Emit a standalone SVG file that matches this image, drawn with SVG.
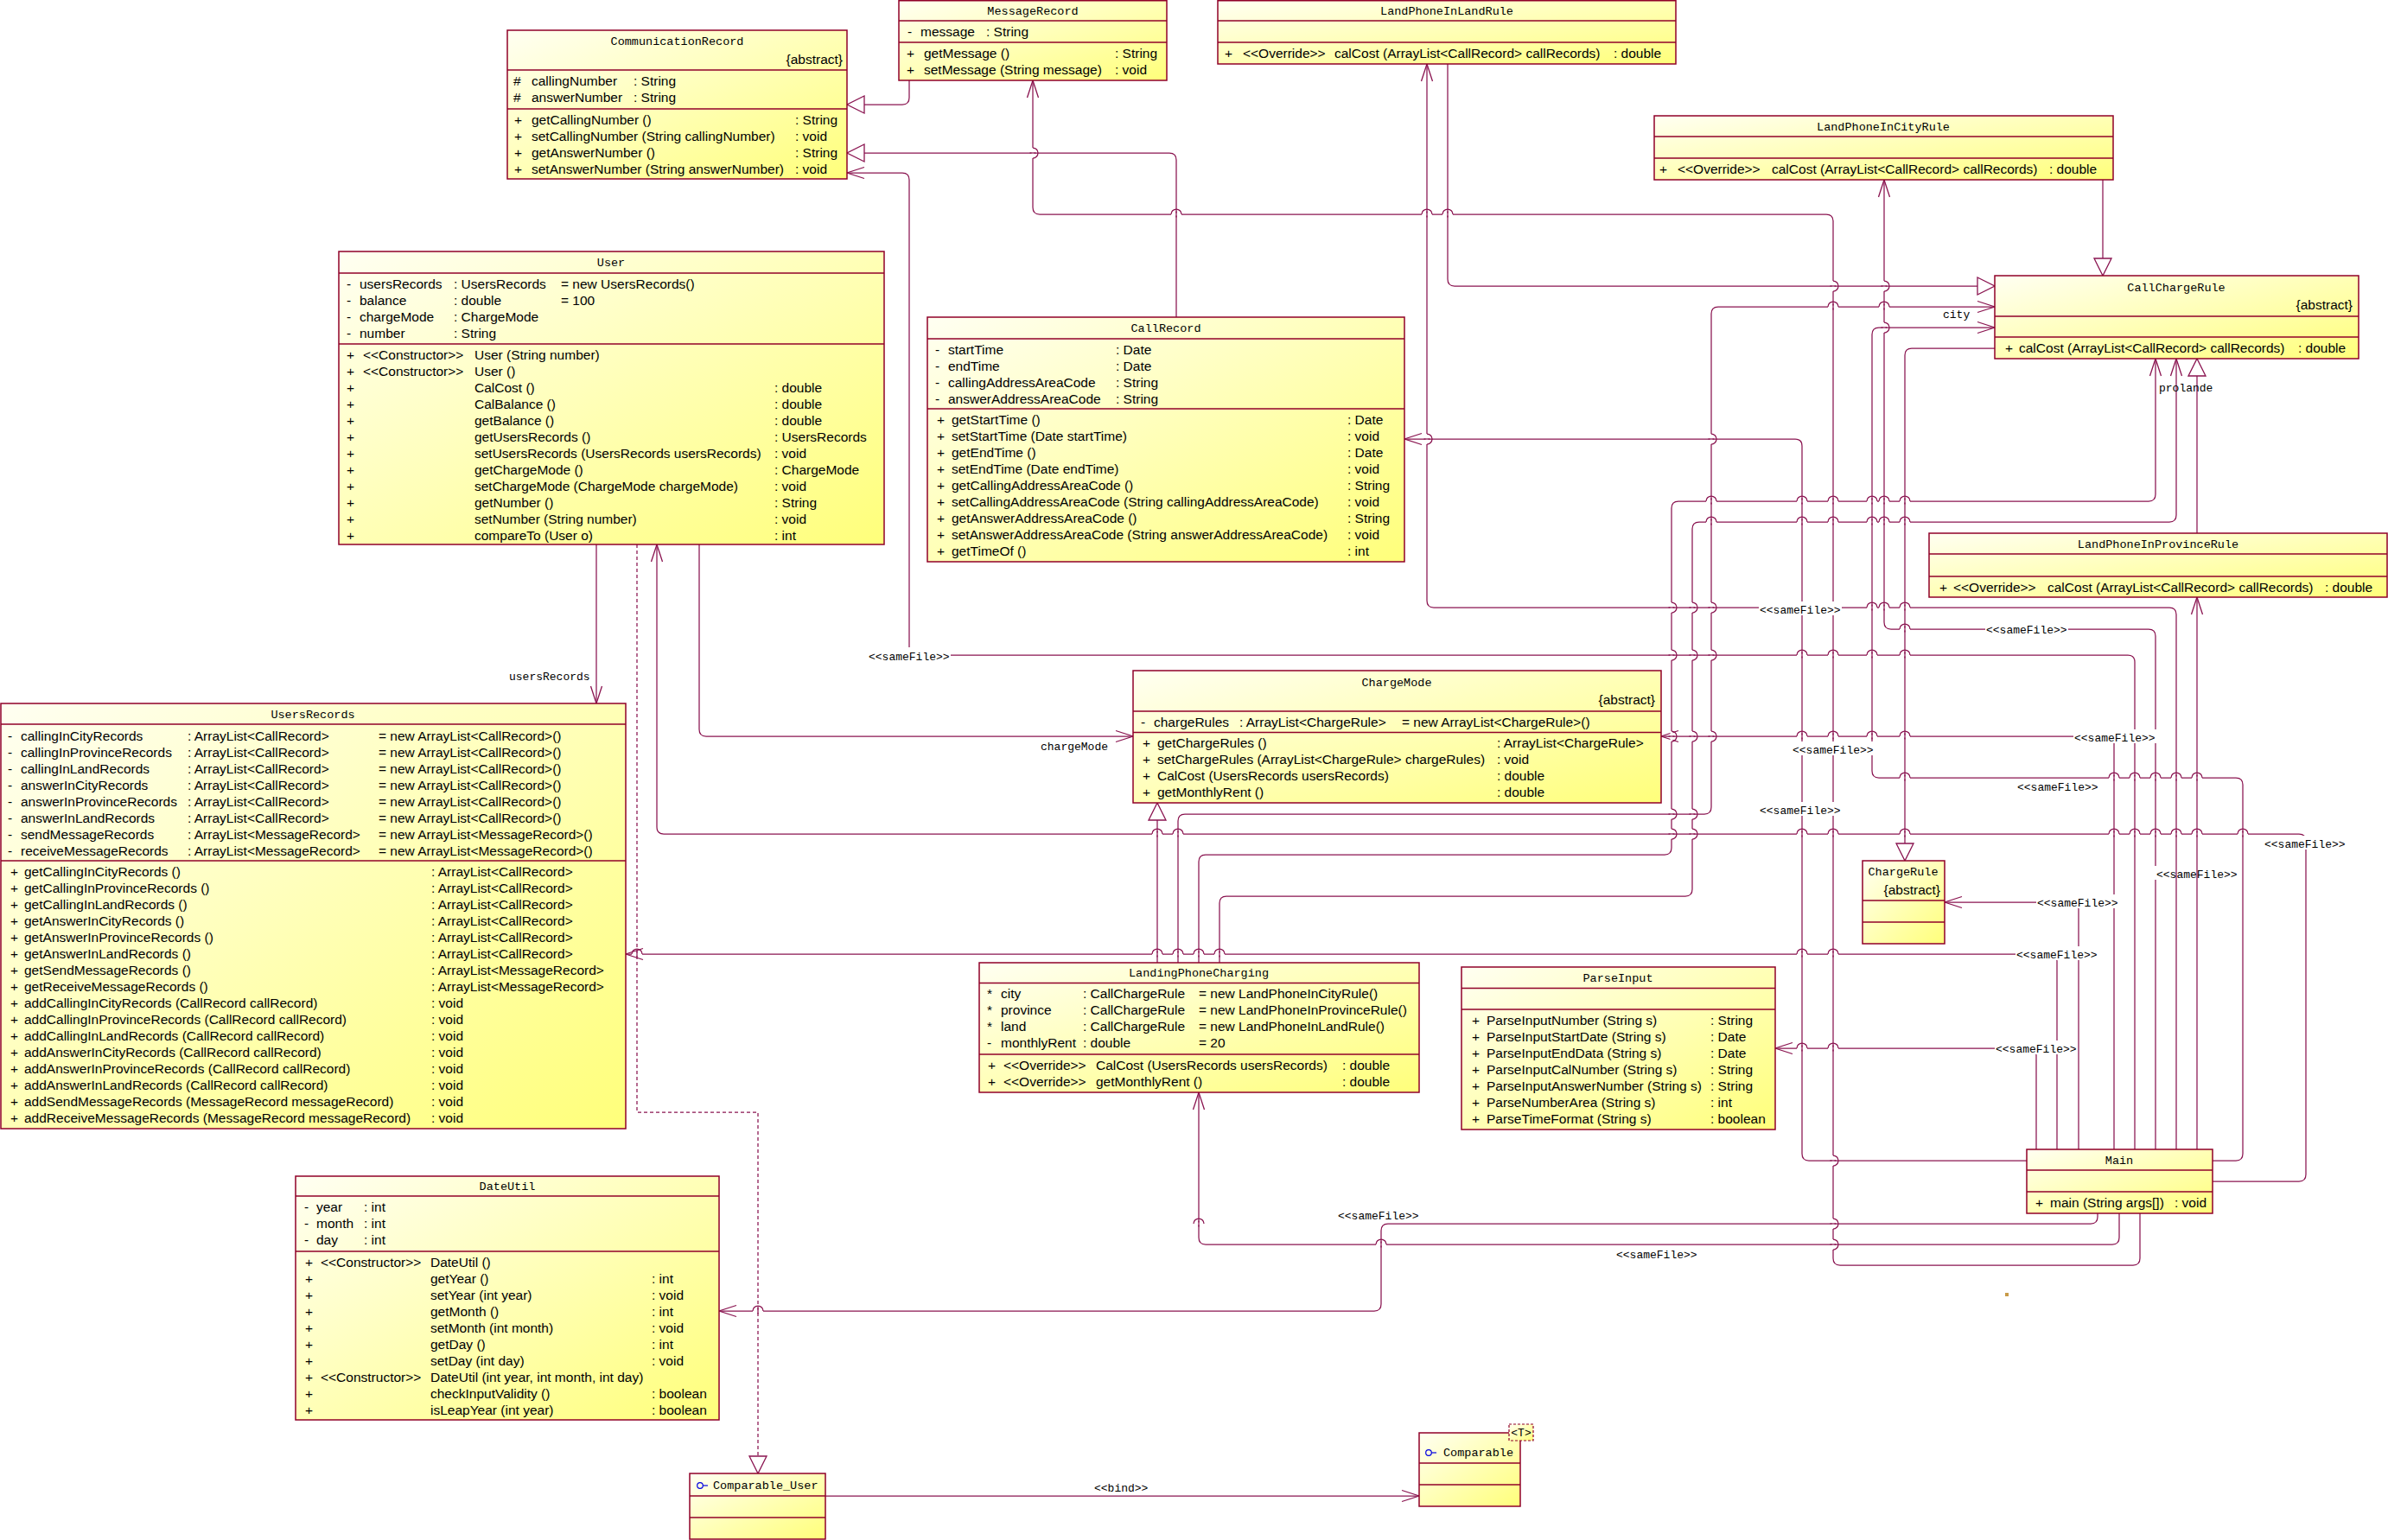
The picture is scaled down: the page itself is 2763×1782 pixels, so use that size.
<svg xmlns="http://www.w3.org/2000/svg" xmlns:xlink="http://www.w3.org/1999/xlink" width="2763" height="1782" viewBox="0 0 2763 1782">
<defs>
<linearGradient id="g" x1="0" y1="0" x2="1" y2="1"><stop offset="0" stop-color="#fffff2"/><stop offset="1" stop-color="#ffff7a"/></linearGradient>
<marker id="open" viewBox="-22 -10 24 20" refX="0" refY="0" markerWidth="24" markerHeight="20" markerUnits="userSpaceOnUse" orient="auto"><path d="M-20,-6.5 L0,0 L-20,6.5" fill="none" stroke="#8a1450" stroke-width="1.3"/></marker>
<marker id="tri" viewBox="-22 -12 24 24" refX="0" refY="0" markerWidth="24" markerHeight="24" markerUnits="userSpaceOnUse" orient="auto"><path d="M-20,-10 L0,0 L-20,10 Z" fill="#fff" stroke="#8a1450" stroke-width="1.3"/></marker>
<style>
.box{fill:url(#g);stroke:#900028;stroke-width:1.5}
.sep{stroke:#900028;stroke-width:1.5}
.t{font-family:"Liberation Sans",Arial,sans-serif;font-size:15.5px;fill:#000}
.h{font-family:"Liberation Mono","DejaVu Sans Mono",monospace;font-size:13.5px;fill:#000;text-anchor:middle}
.e{text-anchor:end}
.lbl{font-family:"Liberation Mono","DejaVu Sans Mono",monospace;font-size:13px;fill:#000}
.ln{fill:none;stroke:#8a1450;stroke-width:1.25}
.wh{fill:none;stroke:#fff;stroke-width:3}
.op{marker-end:url(#open)}
.tr{marker-end:url(#tri)}
.dash{stroke-dasharray:4 3}
.bg{fill:#fff}
.ic{fill:none;stroke:#0000e0;stroke-width:1.2}
</style>
<g id="hh"><path class="wh" d="M-6,0 H6"/><path class="ln" d="M0,-3.5 V3.5"/><path class="ln" d="M-6,0 A6,6 0 0 1 6,0"/></g>
<g id="hv"><path class="wh" d="M0,-6 V6"/><path class="ln" d="M-3.5,0 H3.5"/><path class="ln" d="M0,-6 A6,6 0 0 1 0,6"/></g>
</defs>
<rect width="2763" height="1782" fill="#fff"/>

<g id="connectors">
<path class="ln tr" d="M1052,93 V113 Q1052,121 1044,121 H980"/>
<path class="ln tr" d="M1361,367 V185 Q1361,177 1353,177 H980"/>
<path class="ln op" d="M690,630 V814"/>
<path class="ln op" d="M809,630 V844 Q809,852 817,852 H1311"/>
<path class="ln dash tr" d="M737,630 V1287 H877 V1705"/>
<path class="ln op" d="M955,1731 H1642"/>
<path class="ln tr" d="M1339,1114 V929"/>
<path class="ln op" d="M1363,1114 V950 Q1363,942 1371,942 H1972 Q1980,942 1980,934 V363 Q1980,355 1988,355 H2308"/>
<path class="ln op" d="M1387,1114 V997 Q1387,989 1395,989 H1926 Q1934,989 1934,981 V588 Q1934,580 1942,580 H2486 Q2494,580 2494,572 V415"/>
<path class="ln op" d="M1411,1114 V1045 Q1411,1037 1419,1037 H1950 Q1958,1037 1958,1029 V612 Q1958,604 1966,604 H2510 Q2518,604 2518,596 V415"/>
<path class="ln tr" d="M1675,74 V323 Q1675,331 1683,331 H2308"/>
<path class="ln tr" d="M2433,208 V319"/>
<path class="ln tr" d="M2542,617 V415"/>
<path class="ln tr" d="M2308,403 H2212 Q2204,403 2204,411 V996"/>
<path class="ln op" d="M2427,1404 V1408 Q2427,1416 2419,1416 H1606 Q1598,1416 1598,1424 V1509 Q1598,1517 1590,1517 H832"/>
<path class="ln op" d="M2452,1404 V1432 Q2452,1440 2444,1440 H1395 Q1387,1440 1387,1432 V1264"/>
<path class="ln op" d="M2476,1404 V1456 Q2476,1464 2468,1464 H2129 Q2121,1464 2121,1456 V256 Q2121,248 2113,248 H1203 Q1195,248 1195,240 V93"/>
<path class="ln op" d="M2345,1343 H2093 Q2085,1343 2085,1335 V516 Q2085,508 2077,508 H1625"/>
<path class="ln op" d="M2560,1343 H2587 Q2595,1343 2595,1335 V908 Q2595,900 2587,900 H2174 Q2166,900 2166,892 V387 Q2166,379 2174,379 H2308"/>
<path class="ln op" d="M2560,1367 H2660 Q2668,1367 2668,1359 V973 Q2668,965 2660,965 H768 Q760,965 760,957 V630"/>
<path class="ln op" d="M2380,1330 V1112 Q2380,1104 2372,1104 H724"/>
<path class="ln op" d="M2356,1330 V1221 Q2356,1213 2348,1213 H2054"/>
<path class="ln op" d="M2405,1330 V1052 Q2405,1044 2397,1044 H2250"/>
<path class="ln op" d="M2542,1330 V691"/>
<path class="ln op" d="M2446,1330 V860 Q2446,852 2438,852 H1922"/>
<path class="ln op" d="M2518,1330 V711 Q2518,703 2510,703 H1659 Q1651,703 1651,695 V74"/>
<path class="ln op" d="M2494,1330 V736 Q2494,728 2486,728 H2188 Q2180,728 2180,720 V208"/>
<path class="ln op" d="M2470,1330 V766 Q2470,758 2462,758 H1060 Q1052,758 1052,750 V208 Q1052,200 1044,200 H980"/>

<use xlink:href="#hv" x="1195" y="177"/>
<use xlink:href="#hv" x="2121" y="331"/><use xlink:href="#hv" x="2180" y="331"/>
<use xlink:href="#hv" x="2180" y="379"/>
<use xlink:href="#hv" x="1651" y="508"/><use xlink:href="#hv" x="1980" y="508"/>
<use xlink:href="#hv" x="1934" y="703"/><use xlink:href="#hv" x="1958" y="703"/><use xlink:href="#hv" x="1980" y="703"/>
<use xlink:href="#hv" x="1934" y="758"/><use xlink:href="#hv" x="1958" y="758"/><use xlink:href="#hv" x="1980" y="758"/>
<use xlink:href="#hv" x="1934" y="852"/><use xlink:href="#hv" x="1958" y="852"/><use xlink:href="#hv" x="1980" y="852"/>
<use xlink:href="#hv" x="1934" y="942"/><use xlink:href="#hv" x="1958" y="942"/>
<use xlink:href="#hv" x="1934" y="965"/><use xlink:href="#hv" x="1958" y="965"/>
<use xlink:href="#hv" x="2121" y="1343"/><use xlink:href="#hv" x="2121" y="1416"/><use xlink:href="#hv" x="2121" y="1440"/>

<use xlink:href="#hh" x="1361" y="248"/><use xlink:href="#hh" x="1651" y="248"/><use xlink:href="#hh" x="1675" y="248"/>
<use xlink:href="#hh" x="2121" y="355"/><use xlink:href="#hh" x="2180" y="355"/>
<use xlink:href="#hh" x="1980" y="580"/><use xlink:href="#hh" x="2085" y="580"/><use xlink:href="#hh" x="2121" y="580"/><use xlink:href="#hh" x="2166" y="580"/><use xlink:href="#hh" x="2180" y="580"/><use xlink:href="#hh" x="2204" y="580"/>
<use xlink:href="#hh" x="1980" y="604"/><use xlink:href="#hh" x="2085" y="604"/><use xlink:href="#hh" x="2121" y="604"/><use xlink:href="#hh" x="2166" y="604"/><use xlink:href="#hh" x="2180" y="604"/><use xlink:href="#hh" x="2204" y="604"/>
<use xlink:href="#hh" x="2085" y="703"/><use xlink:href="#hh" x="2121" y="703"/><use xlink:href="#hh" x="2166" y="703"/><use xlink:href="#hh" x="2180" y="703"/><use xlink:href="#hh" x="2204" y="703"/>
<use xlink:href="#hh" x="2204" y="728"/>
<use xlink:href="#hh" x="2085" y="758"/><use xlink:href="#hh" x="2121" y="758"/><use xlink:href="#hh" x="2166" y="758"/><use xlink:href="#hh" x="2204" y="758"/>
<use xlink:href="#hh" x="2085" y="852"/><use xlink:href="#hh" x="2121" y="852"/><use xlink:href="#hh" x="2166" y="852"/><use xlink:href="#hh" x="2204" y="852"/>
<use xlink:href="#hh" x="2204" y="900"/><use xlink:href="#hh" x="2446" y="900"/><use xlink:href="#hh" x="2470" y="900"/><use xlink:href="#hh" x="2494" y="900"/><use xlink:href="#hh" x="2518" y="900"/><use xlink:href="#hh" x="2542" y="900"/>
<use xlink:href="#hh" x="1339" y="965"/><use xlink:href="#hh" x="1363" y="965"/><use xlink:href="#hh" x="2085" y="965"/><use xlink:href="#hh" x="2121" y="965"/><use xlink:href="#hh" x="2204" y="965"/><use xlink:href="#hh" x="2446" y="965"/><use xlink:href="#hh" x="2470" y="965"/><use xlink:href="#hh" x="2494" y="965"/><use xlink:href="#hh" x="2518" y="965"/><use xlink:href="#hh" x="2542" y="965"/><use xlink:href="#hh" x="2595" y="965"/>
<use xlink:href="#hh" x="737" y="1104"/><use xlink:href="#hh" x="1339" y="1104"/><use xlink:href="#hh" x="1363" y="1104"/><use xlink:href="#hh" x="1387" y="1104"/><use xlink:href="#hh" x="1411" y="1104"/><use xlink:href="#hh" x="2085" y="1104"/><use xlink:href="#hh" x="2121" y="1104"/>
<use xlink:href="#hh" x="2085" y="1213"/><use xlink:href="#hh" x="2121" y="1213"/>
<use xlink:href="#hh" x="1387" y="1416"/><use xlink:href="#hh" x="1598" y="1440"/><use xlink:href="#hh" x="877" y="1517"/>

<text class="lbl" x="589" y="787">usersRecords</text>
<text class="lbl" x="1204" y="868">chargeMode</text>
<text class="lbl" x="1266" y="1726">&lt;&lt;bind&gt;&gt;</text>
<text class="lbl" x="2248" y="368">city</text>
<text class="lbl" x="2498" y="453">prolande</text>
<rect class="bg" x="1004" y="749" width="96" height="16"/><text class="lbl" x="1005" y="764">&lt;&lt;sameFile&gt;&gt;</text>
<rect class="bg" x="2035" y="696" width="96" height="16"/><text class="lbl" x="2036" y="710">&lt;&lt;sameFile&gt;&gt;</text>
<rect class="bg" x="2297" y="719" width="96" height="16"/><text class="lbl" x="2298" y="733">&lt;&lt;sameFile&gt;&gt;</text>
<rect class="bg" x="2399" y="844" width="96" height="16"/><text class="lbl" x="2400" y="858">&lt;&lt;sameFile&gt;&gt;</text>
<rect class="bg" x="2073" y="858" width="96" height="16"/><text class="lbl" x="2074" y="872">&lt;&lt;sameFile&gt;&gt;</text>
<text class="lbl" x="2334" y="915">&lt;&lt;sameFile&gt;&gt;</text>
<rect class="bg" x="2035" y="928" width="96" height="16"/><text class="lbl" x="2036" y="942">&lt;&lt;sameFile&gt;&gt;</text>
<rect class="bg" x="2619" y="967" width="96" height="16"/><text class="lbl" x="2620" y="981">&lt;&lt;sameFile&gt;&gt;</text>
<rect class="bg" x="2492" y="1002" width="5" height="16"/><text class="lbl" x="2495" y="1016">&lt;&lt;sameFile&gt;&gt;</text>
<rect class="bg" x="2356" y="1035" width="96" height="16"/><text class="lbl" x="2357" y="1049">&lt;&lt;sameFile&gt;&gt;</text>
<rect class="bg" x="2332" y="1095" width="96" height="16"/><text class="lbl" x="2333" y="1109">&lt;&lt;sameFile&gt;&gt;</text>
<rect class="bg" x="2308" y="1204" width="96" height="16"/><text class="lbl" x="2309" y="1218">&lt;&lt;sameFile&gt;&gt;</text>
<text class="lbl" x="1548" y="1411">&lt;&lt;sameFile&gt;&gt;</text>
<text class="lbl" x="1870" y="1456">&lt;&lt;sameFile&gt;&gt;</text>
<rect x="2320" y="1496" width="4" height="4" fill="#c89a48"/>
</g>

<g id="CommunicationRecord">
<rect class="box" x="587" y="35" width="393" height="172"/>
<line class="sep" x1="587" y1="81" x2="980" y2="81"/><line class="sep" x1="587" y1="126" x2="980" y2="126"/>
<text class="h" x="783.5" y="52">CommunicationRecord</text>
<text class="t e" x="975" y="74">{abstract}</text>
<text class="t" x="594" y="98.5">#</text><text class="t" x="615" y="98.5">callingNumber</text><text class="t" x="733" y="98.5">: String</text>
<text class="t" x="594" y="117.5">#</text><text class="t" x="615" y="117.5">answerNumber</text><text class="t" x="733" y="117.5">: String</text>
<text class="t" x="595" y="143.5">+</text><text class="t" x="615" y="143.5">getCallingNumber ()</text><text class="t" x="920" y="143.5">: String</text>
<text class="t" x="595" y="162.5">+</text><text class="t" x="615" y="162.5">setCallingNumber (String callingNumber)</text><text class="t" x="920" y="162.5">: void</text>
<text class="t" x="595" y="181.5">+</text><text class="t" x="615" y="181.5">getAnswerNumber ()</text><text class="t" x="920" y="181.5">: String</text>
<text class="t" x="595" y="200.5">+</text><text class="t" x="615" y="200.5">setAnswerNumber (String answerNumber)</text><text class="t" x="920" y="200.5">: void</text>
</g>

<g id="MessageRecord">
<rect class="box" x="1040" y="0.75" width="310" height="92.25"/>
<line class="sep" x1="1040" y1="24" x2="1350" y2="24"/><line class="sep" x1="1040" y1="49" x2="1350" y2="49"/>
<text class="h" x="1195" y="17">MessageRecord</text>
<text class="t" x="1050" y="41.5">-</text><text class="t" x="1065" y="41.5">message</text><text class="t" x="1141" y="41.5">: String</text>
<text class="t" x="1049" y="66.5">+</text><text class="t" x="1069" y="66.5">getMessage ()</text><text class="t" x="1290" y="66.5">: String</text>
<text class="t" x="1049" y="85.5">+</text><text class="t" x="1069" y="85.5">setMessage (String message)</text><text class="t" x="1290" y="85.5">: void</text>
</g>

<g id="LandPhoneInLandRule">
<rect class="box" x="1409" y="0.75" width="530" height="73.25"/>
<line class="sep" x1="1409" y1="24" x2="1939" y2="24"/><line class="sep" x1="1409" y1="49" x2="1939" y2="49"/>
<text class="h" x="1674" y="17">LandPhoneInLandRule</text>
<text class="t" x="1417" y="66.5">+</text><text class="t" x="1438" y="66.5">&lt;&lt;Override&gt;&gt;</text><text class="t" x="1544" y="66.5">calCost (ArrayList&lt;CallRecord&gt; callRecords)</text><text class="t" x="1867" y="66.5">: double</text>
</g>

<g id="LandPhoneInCityRule">
<rect class="box" x="1914" y="134" width="531" height="74"/>
<line class="sep" x1="1914" y1="158" x2="2445" y2="158"/><line class="sep" x1="1914" y1="183" x2="2445" y2="183"/>
<text class="h" x="2179" y="151">LandPhoneInCityRule</text>
<text class="t" x="1920" y="200.5">+</text><text class="t" x="1941" y="200.5">&lt;&lt;Override&gt;&gt;</text><text class="t" x="2050" y="200.5">calCost (ArrayList&lt;CallRecord&gt; callRecords)</text><text class="t" x="2371" y="200.5">: double</text>
</g>

<g id="User">
<rect class="box" x="392" y="291" width="631" height="339"/>
<line class="sep" x1="392" y1="316" x2="1023" y2="316"/><line class="sep" x1="392" y1="398" x2="1023" y2="398"/>
<text class="h" x="707" y="308">User</text>
<text class="t" x="401" y="333.5">-</text><text class="t" x="416" y="333.5">usersRecords</text><text class="t" x="525" y="333.5">: UsersRecords</text><text class="t" x="649" y="333.5">= new UsersRecords()</text>
<text class="t" x="401" y="352.5">-</text><text class="t" x="416" y="352.5">balance</text><text class="t" x="525" y="352.5">: double</text><text class="t" x="649" y="352.5">= 100</text>
<text class="t" x="401" y="371.5">-</text><text class="t" x="416" y="371.5">chargeMode</text><text class="t" x="525" y="371.5">: ChargeMode</text>
<text class="t" x="401" y="390.5">-</text><text class="t" x="416" y="390.5">number</text><text class="t" x="525" y="390.5">: String</text>
<text class="t" x="401" y="415.5">+</text><text class="t" x="420" y="415.5">&lt;&lt;Constructor&gt;&gt;</text><text class="t" x="549" y="415.5">User (String number)</text>
<text class="t" x="401" y="434.5">+</text><text class="t" x="420" y="434.5">&lt;&lt;Constructor&gt;&gt;</text><text class="t" x="549" y="434.5">User ()</text>
<text class="t" x="401" y="453.5">+</text><text class="t" x="549" y="453.5">CalCost ()</text><text class="t" x="896" y="453.5">: double</text>
<text class="t" x="401" y="472.5">+</text><text class="t" x="549" y="472.5">CalBalance ()</text><text class="t" x="896" y="472.5">: double</text>
<text class="t" x="401" y="491.5">+</text><text class="t" x="549" y="491.5">getBalance ()</text><text class="t" x="896" y="491.5">: double</text>
<text class="t" x="401" y="510.5">+</text><text class="t" x="549" y="510.5">getUsersRecords ()</text><text class="t" x="896" y="510.5">: UsersRecords</text>
<text class="t" x="401" y="529.5">+</text><text class="t" x="549" y="529.5">setUsersRecords (UsersRecords usersRecords)</text><text class="t" x="896" y="529.5">: void</text>
<text class="t" x="401" y="548.5">+</text><text class="t" x="549" y="548.5">getChargeMode ()</text><text class="t" x="896" y="548.5">: ChargeMode</text>
<text class="t" x="401" y="567.5">+</text><text class="t" x="549" y="567.5">setChargeMode (ChargeMode chargeMode)</text><text class="t" x="896" y="567.5">: void</text>
<text class="t" x="401" y="586.5">+</text><text class="t" x="549" y="586.5">getNumber ()</text><text class="t" x="896" y="586.5">: String</text>
<text class="t" x="401" y="605.5">+</text><text class="t" x="549" y="605.5">setNumber (String number)</text><text class="t" x="896" y="605.5">: void</text>
<text class="t" x="401" y="624.5">+</text><text class="t" x="549" y="624.5">compareTo (User o)</text><text class="t" x="896" y="624.5">: int</text>
</g>

<g id="UsersRecords">
<rect class="box" x="1" y="814" width="723" height="492"/>
<line class="sep" x1="1" y1="838" x2="724" y2="838"/><line class="sep" x1="1" y1="996" x2="724" y2="996"/>
<text class="h" x="362" y="831">UsersRecords</text>
<text class="t" x="9" y="856.5">-</text><text class="t" x="24" y="856.5">callingInCityRecords</text><text class="t" x="217" y="856.5">: ArrayList&lt;CallRecord&gt;</text><text class="t" x="438" y="856.5">= new ArrayList&lt;CallRecord&gt;()</text>
<text class="t" x="9" y="875.5">-</text><text class="t" x="24" y="875.5">callingInProvinceRecords</text><text class="t" x="217" y="875.5">: ArrayList&lt;CallRecord&gt;</text><text class="t" x="438" y="875.5">= new ArrayList&lt;CallRecord&gt;()</text>
<text class="t" x="9" y="894.5">-</text><text class="t" x="24" y="894.5">callingInLandRecords</text><text class="t" x="217" y="894.5">: ArrayList&lt;CallRecord&gt;</text><text class="t" x="438" y="894.5">= new ArrayList&lt;CallRecord&gt;()</text>
<text class="t" x="9" y="913.5">-</text><text class="t" x="24" y="913.5">answerInCityRecords</text><text class="t" x="217" y="913.5">: ArrayList&lt;CallRecord&gt;</text><text class="t" x="438" y="913.5">= new ArrayList&lt;CallRecord&gt;()</text>
<text class="t" x="9" y="932.5">-</text><text class="t" x="24" y="932.5">answerInProvinceRecords</text><text class="t" x="217" y="932.5">: ArrayList&lt;CallRecord&gt;</text><text class="t" x="438" y="932.5">= new ArrayList&lt;CallRecord&gt;()</text>
<text class="t" x="9" y="951.5">-</text><text class="t" x="24" y="951.5">answerInLandRecords</text><text class="t" x="217" y="951.5">: ArrayList&lt;CallRecord&gt;</text><text class="t" x="438" y="951.5">= new ArrayList&lt;CallRecord&gt;()</text>
<text class="t" x="9" y="970.5">-</text><text class="t" x="24" y="970.5">sendMessageRecords</text><text class="t" x="217" y="970.5">: ArrayList&lt;MessageRecord&gt;</text><text class="t" x="438" y="970.5">= new ArrayList&lt;MessageRecord&gt;()</text>
<text class="t" x="9" y="989.5">-</text><text class="t" x="24" y="989.5">receiveMessageRecords</text><text class="t" x="217" y="989.5">: ArrayList&lt;MessageRecord&gt;</text><text class="t" x="438" y="989.5">= new ArrayList&lt;MessageRecord&gt;()</text>
<text class="t" x="12" y="1014">+</text><text class="t" x="28" y="1014">getCallingInCityRecords ()</text><text class="t" x="499" y="1014">: ArrayList&lt;CallRecord&gt;</text>
<text class="t" x="12" y="1033">+</text><text class="t" x="28" y="1033">getCallingInProvinceRecords ()</text><text class="t" x="499" y="1033">: ArrayList&lt;CallRecord&gt;</text>
<text class="t" x="12" y="1052">+</text><text class="t" x="28" y="1052">getCallingInLandRecords ()</text><text class="t" x="499" y="1052">: ArrayList&lt;CallRecord&gt;</text>
<text class="t" x="12" y="1071">+</text><text class="t" x="28" y="1071">getAnswerInCityRecords ()</text><text class="t" x="499" y="1071">: ArrayList&lt;CallRecord&gt;</text>
<text class="t" x="12" y="1090">+</text><text class="t" x="28" y="1090">getAnswerInProvinceRecords ()</text><text class="t" x="499" y="1090">: ArrayList&lt;CallRecord&gt;</text>
<text class="t" x="12" y="1109">+</text><text class="t" x="28" y="1109">getAnswerInLandRecords ()</text><text class="t" x="499" y="1109">: ArrayList&lt;CallRecord&gt;</text>
<text class="t" x="12" y="1128">+</text><text class="t" x="28" y="1128">getSendMessageRecords ()</text><text class="t" x="499" y="1128">: ArrayList&lt;MessageRecord&gt;</text>
<text class="t" x="12" y="1147">+</text><text class="t" x="28" y="1147">getReceiveMessageRecords ()</text><text class="t" x="499" y="1147">: ArrayList&lt;MessageRecord&gt;</text>
<text class="t" x="12" y="1166">+</text><text class="t" x="28" y="1166">addCallingInCityRecords (CallRecord callRecord)</text><text class="t" x="499" y="1166">: void</text>
<text class="t" x="12" y="1185">+</text><text class="t" x="28" y="1185">addCallingInProvinceRecords (CallRecord callRecord)</text><text class="t" x="499" y="1185">: void</text>
<text class="t" x="12" y="1204">+</text><text class="t" x="28" y="1204">addCallingInLandRecords (CallRecord callRecord)</text><text class="t" x="499" y="1204">: void</text>
<text class="t" x="12" y="1223">+</text><text class="t" x="28" y="1223">addAnswerInCityRecords (CallRecord callRecord)</text><text class="t" x="499" y="1223">: void</text>
<text class="t" x="12" y="1242">+</text><text class="t" x="28" y="1242">addAnswerInProvinceRecords (CallRecord callRecord)</text><text class="t" x="499" y="1242">: void</text>
<text class="t" x="12" y="1261">+</text><text class="t" x="28" y="1261">addAnswerInLandRecords (CallRecord callRecord)</text><text class="t" x="499" y="1261">: void</text>
<text class="t" x="12" y="1280">+</text><text class="t" x="28" y="1280">addSendMessageRecords (MessageRecord messageRecord)</text><text class="t" x="499" y="1280">: void</text>
<text class="t" x="12" y="1299">+</text><text class="t" x="28" y="1299">addReceiveMessageRecords (MessageRecord messageRecord)</text><text class="t" x="499" y="1299">: void</text>
</g>

<g id="CallRecord">
<rect class="box" x="1073" y="367" width="552" height="283"/>
<line class="sep" x1="1073" y1="392" x2="1625" y2="392"/><line class="sep" x1="1073" y1="473" x2="1625" y2="473"/>
<text class="h" x="1349" y="384">CallRecord</text>
<text class="t" x="1082" y="409.5">-</text><text class="t" x="1097" y="409.5">startTime</text><text class="t" x="1291" y="409.5">: Date</text>
<text class="t" x="1082" y="428.5">-</text><text class="t" x="1097" y="428.5">endTime</text><text class="t" x="1291" y="428.5">: Date</text>
<text class="t" x="1082" y="447.5">-</text><text class="t" x="1097" y="447.5">callingAddressAreaCode</text><text class="t" x="1291" y="447.5">: String</text>
<text class="t" x="1082" y="466.5">-</text><text class="t" x="1097" y="466.5">answerAddressAreaCode</text><text class="t" x="1291" y="466.5">: String</text>
<text class="t" x="1084" y="490.5">+</text><text class="t" x="1101" y="490.5">getStartTime ()</text><text class="t" x="1559" y="490.5">: Date</text>
<text class="t" x="1084" y="509.5">+</text><text class="t" x="1101" y="509.5">setStartTime (Date startTime)</text><text class="t" x="1559" y="509.5">: void</text>
<text class="t" x="1084" y="528.5">+</text><text class="t" x="1101" y="528.5">getEndTime ()</text><text class="t" x="1559" y="528.5">: Date</text>
<text class="t" x="1084" y="547.5">+</text><text class="t" x="1101" y="547.5">setEndTime (Date endTime)</text><text class="t" x="1559" y="547.5">: void</text>
<text class="t" x="1084" y="566.5">+</text><text class="t" x="1101" y="566.5">getCallingAddressAreaCode ()</text><text class="t" x="1559" y="566.5">: String</text>
<text class="t" x="1084" y="585.5">+</text><text class="t" x="1101" y="585.5">setCallingAddressAreaCode (String callingAddressAreaCode)</text><text class="t" x="1559" y="585.5">: void</text>
<text class="t" x="1084" y="604.5">+</text><text class="t" x="1101" y="604.5">getAnswerAddressAreaCode ()</text><text class="t" x="1559" y="604.5">: String</text>
<text class="t" x="1084" y="623.5">+</text><text class="t" x="1101" y="623.5">setAnswerAddressAreaCode (String answerAddressAreaCode)</text><text class="t" x="1559" y="623.5">: void</text>
<text class="t" x="1084" y="642.5">+</text><text class="t" x="1101" y="642.5">getTimeOf ()</text><text class="t" x="1559" y="642.5">: int</text>
</g>

<g id="CallChargeRule">
<rect class="box" x="2308" y="319" width="421" height="96"/>
<line class="sep" x1="2308" y1="366" x2="2729" y2="366"/><line class="sep" x1="2308" y1="390" x2="2729" y2="390"/>
<text class="h" x="2518" y="337">CallChargeRule</text>
<text class="t e" x="2722" y="358">{abstract}</text>
<text class="t" x="2320" y="407.5">+</text><text class="t" x="2336" y="407.5">calCost (ArrayList&lt;CallRecord&gt; callRecords)</text><text class="t" x="2659" y="407.5">: double</text>
</g>

<g id="LandPhoneInProvinceRule">
<rect class="box" x="2232" y="617" width="530" height="74"/>
<line class="sep" x1="2232" y1="641" x2="2762" y2="641"/><line class="sep" x1="2232" y1="667" x2="2762" y2="667"/>
<text class="h" x="2497" y="634">LandPhoneInProvinceRule</text>
<text class="t" x="2244" y="684.5">+</text><text class="t" x="2260" y="684.5">&lt;&lt;Override&gt;&gt;</text><text class="t" x="2369" y="684.5">calCost (ArrayList&lt;CallRecord&gt; callRecords)</text><text class="t" x="2690" y="684.5">: double</text>
</g>

<g id="ChargeMode">
<rect class="box" x="1311" y="776" width="611" height="153"/>
<line class="sep" x1="1311" y1="823" x2="1922" y2="823"/><line class="sep" x1="1311" y1="847.5" x2="1922" y2="847.5"/>
<text class="h" x="1616" y="794">ChargeMode</text>
<text class="t e" x="1915" y="815">{abstract}</text>
<text class="t" x="1320" y="840.5">-</text><text class="t" x="1335" y="840.5">chargeRules</text><text class="t" x="1434" y="840.5">: ArrayList&lt;ChargeRule&gt;</text><text class="t" x="1622" y="840.5">= new ArrayList&lt;ChargeRule&gt;()</text>
<text class="t" x="1322" y="865">+</text><text class="t" x="1339" y="865">getChargeRules ()</text><text class="t" x="1732" y="865">: ArrayList&lt;ChargeRule&gt;</text>
<text class="t" x="1322" y="884">+</text><text class="t" x="1339" y="884">setChargeRules (ArrayList&lt;ChargeRule&gt; chargeRules)</text><text class="t" x="1732" y="884">: void</text>
<text class="t" x="1322" y="903">+</text><text class="t" x="1339" y="903">CalCost (UsersRecords usersRecords)</text><text class="t" x="1732" y="903">: double</text>
<text class="t" x="1322" y="922">+</text><text class="t" x="1339" y="922">getMonthlyRent ()</text><text class="t" x="1732" y="922">: double</text>
</g>

<g id="LandingPhoneCharging">
<rect class="box" x="1133" y="1114" width="509" height="150"/>
<line class="sep" x1="1133" y1="1137.5" x2="1642" y2="1137.5"/><line class="sep" x1="1133" y1="1220" x2="1642" y2="1220"/>
<text class="h" x="1387" y="1130">LandingPhoneCharging</text>
<text class="t" x="1142" y="1155">*</text><text class="t" x="1158" y="1155">city</text><text class="t" x="1253" y="1155">: CallChargeRule</text><text class="t" x="1387" y="1155">= new LandPhoneInCityRule()</text>
<text class="t" x="1142" y="1174">*</text><text class="t" x="1158" y="1174">province</text><text class="t" x="1253" y="1174">: CallChargeRule</text><text class="t" x="1387" y="1174">= new LandPhoneInProvinceRule()</text>
<text class="t" x="1142" y="1193">*</text><text class="t" x="1158" y="1193">land</text><text class="t" x="1253" y="1193">: CallChargeRule</text><text class="t" x="1387" y="1193">= new LandPhoneInLandRule()</text>
<text class="t" x="1142" y="1212">-</text><text class="t" x="1158" y="1212">monthlyRent</text><text class="t" x="1253" y="1212">: double</text><text class="t" x="1387" y="1212">= 20</text>
<text class="t" x="1143" y="1237.5">+</text><text class="t" x="1161" y="1237.5">&lt;&lt;Override&gt;&gt;</text><text class="t" x="1268" y="1237.5">CalCost (UsersRecords usersRecords)</text><text class="t" x="1553" y="1237.5">: double</text>
<text class="t" x="1143" y="1256.5">+</text><text class="t" x="1161" y="1256.5">&lt;&lt;Override&gt;&gt;</text><text class="t" x="1268" y="1256.5">getMonthlyRent ()</text><text class="t" x="1553" y="1256.5">: double</text>
</g>

<g id="ParseInput">
<rect class="box" x="1691" y="1119" width="363" height="188"/>
<line class="sep" x1="1691" y1="1143.5" x2="2054" y2="1143.5"/><line class="sep" x1="1691" y1="1168" x2="2054" y2="1168"/>
<text class="h" x="1872" y="1136">ParseInput</text>
<text class="t" x="1703" y="1185.5">+</text><text class="t" x="1720" y="1185.5">ParseInputNumber (String s)</text><text class="t" x="1979" y="1185.5">: String</text>
<text class="t" x="1703" y="1204.5">+</text><text class="t" x="1720" y="1204.5">ParseInputStartDate (String s)</text><text class="t" x="1979" y="1204.5">: Date</text>
<text class="t" x="1703" y="1223.5">+</text><text class="t" x="1720" y="1223.5">ParseInputEndData (String s)</text><text class="t" x="1979" y="1223.5">: Date</text>
<text class="t" x="1703" y="1242.5">+</text><text class="t" x="1720" y="1242.5">ParseInputCalNumber (String s)</text><text class="t" x="1979" y="1242.5">: String</text>
<text class="t" x="1703" y="1261.5">+</text><text class="t" x="1720" y="1261.5">ParseInputAnswerNumber (String s)</text><text class="t" x="1979" y="1261.5">: String</text>
<text class="t" x="1703" y="1280.5">+</text><text class="t" x="1720" y="1280.5">ParseNumberArea (String s)</text><text class="t" x="1979" y="1280.5">: int</text>
<text class="t" x="1703" y="1299.5">+</text><text class="t" x="1720" y="1299.5">ParseTimeFormat (String s)</text><text class="t" x="1979" y="1299.5">: boolean</text>
</g>

<g id="DateUtil">
<rect class="box" x="342" y="1361" width="490" height="282"/>
<line class="sep" x1="342" y1="1384" x2="832" y2="1384"/><line class="sep" x1="342" y1="1448" x2="832" y2="1448"/>
<text class="h" x="587" y="1377">DateUtil</text>
<text class="t" x="352" y="1401.5">-</text><text class="t" x="366" y="1401.5">year</text><text class="t" x="421" y="1401.5">: int</text>
<text class="t" x="352" y="1420.5">-</text><text class="t" x="366" y="1420.5">month</text><text class="t" x="421" y="1420.5">: int</text>
<text class="t" x="352" y="1439.5">-</text><text class="t" x="366" y="1439.5">day</text><text class="t" x="421" y="1439.5">: int</text>
<text class="t" x="353" y="1466">+</text><text class="t" x="371" y="1466">&lt;&lt;Constructor&gt;&gt;</text><text class="t" x="498" y="1466">DateUtil ()</text>
<text class="t" x="353" y="1485">+</text><text class="t" x="498" y="1485">getYear ()</text><text class="t" x="754" y="1485">: int</text>
<text class="t" x="353" y="1504">+</text><text class="t" x="498" y="1504">setYear (int year)</text><text class="t" x="754" y="1504">: void</text>
<text class="t" x="353" y="1523">+</text><text class="t" x="498" y="1523">getMonth ()</text><text class="t" x="754" y="1523">: int</text>
<text class="t" x="353" y="1542">+</text><text class="t" x="498" y="1542">setMonth (int month)</text><text class="t" x="754" y="1542">: void</text>
<text class="t" x="353" y="1561">+</text><text class="t" x="498" y="1561">getDay ()</text><text class="t" x="754" y="1561">: int</text>
<text class="t" x="353" y="1580">+</text><text class="t" x="498" y="1580">setDay (int day)</text><text class="t" x="754" y="1580">: void</text>
<text class="t" x="353" y="1599">+</text><text class="t" x="371" y="1599">&lt;&lt;Constructor&gt;&gt;</text><text class="t" x="498" y="1599">DateUtil (int year, int month, int day)</text>
<text class="t" x="353" y="1618">+</text><text class="t" x="498" y="1618">checkInputValidity ()</text><text class="t" x="754" y="1618">: boolean</text>
<text class="t" x="353" y="1637">+</text><text class="t" x="498" y="1637">isLeapYear (int year)</text><text class="t" x="754" y="1637">: boolean</text>
</g>

<g id="ChargeRule">
<rect class="box" x="2155" y="996" width="95" height="96"/>
<line class="sep" x1="2155" y1="1042" x2="2250" y2="1042"/><line class="sep" x1="2155" y1="1067" x2="2250" y2="1067"/>
<text class="h" x="2202" y="1013">ChargeRule</text>
<text class="t e" x="2245" y="1035">{abstract}</text>
</g>

<g id="Main">
<rect class="box" x="2345" y="1330" width="215" height="74"/>
<line class="sep" x1="2345" y1="1354" x2="2560" y2="1354"/><line class="sep" x1="2345" y1="1379" x2="2560" y2="1379"/>
<text class="h" x="2452" y="1347">Main</text>
<text class="t" x="2355" y="1396.5">+</text><text class="t" x="2372" y="1396.5">main (String args[])</text><text class="t" x="2516" y="1396.5">: void</text>
</g>

<g id="Comparable_User">
<rect class="box" x="798" y="1705" width="157" height="76"/>
<line class="sep" x1="798" y1="1731" x2="955" y2="1731"/><line class="sep" x1="798" y1="1756" x2="955" y2="1756"/>
<circle class="ic" cx="810" cy="1719" r="3.3"/><line class="ic" x1="813.3" y1="1719" x2="819" y2="1719"/>
<text class="h" x="825" y="1723" style="text-anchor:start">Comparable_User</text>
</g>

<g id="Comparable">
<rect class="box" x="1642" y="1658" width="117" height="85"/>
<line class="sep" x1="1642" y1="1693" x2="1759" y2="1693"/><line class="sep" x1="1642" y1="1718" x2="1759" y2="1718"/>
<circle class="ic" cx="1653" cy="1681" r="3.3"/><line class="ic" x1="1656.3" y1="1681" x2="1662" y2="1681"/>
<text class="h" x="1670" y="1685" style="text-anchor:start">Comparable</text>
<rect x="1746" y="1648" width="28" height="19" fill="url(#g)" stroke="#900028" stroke-width="1.2" stroke-dasharray="3 2"/>
<text class="lbl" x="1760" y="1662" text-anchor="middle">&lt;T&gt;</text>
</g>
</svg>
